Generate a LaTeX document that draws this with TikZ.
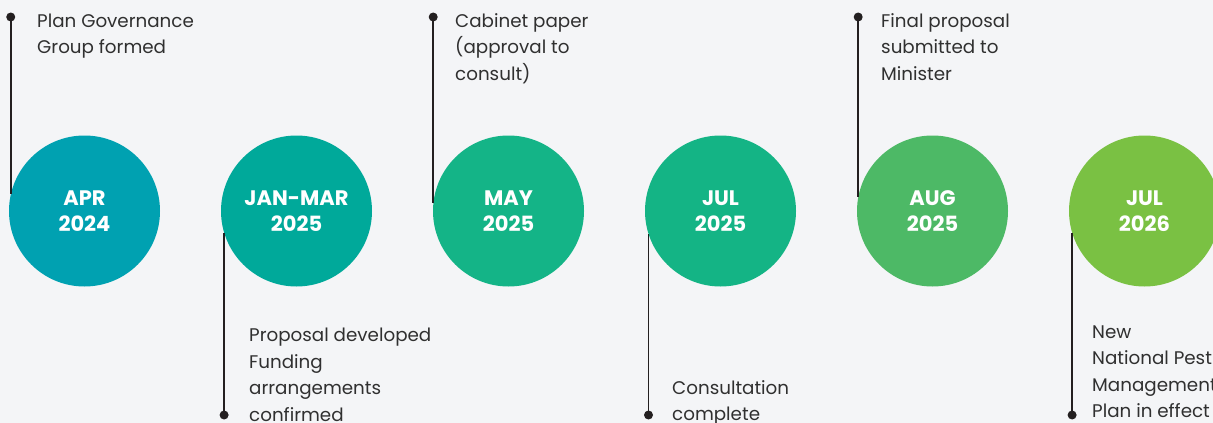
\documentclass[tikz,border=0pt]{standalone}
\usepackage{fontspec}
\setmainfont{Poppins}
\begin{document}
\begin{tikzpicture}[x=1pt,y=-1pt,
  milestone/.style={circle,minimum size=151pt,inner sep=0pt,text=white,
    font=\fontsize{21}{26}\selectfont\bfseries,align=center},
  pin/.style={circle,fill=inkdark,minimum size=9pt,inner sep=0pt},
  stem/.style={draw=inkdark,line width=1.6pt},
  note/.style={font=\fontsize{18.3}{26.5}\selectfont,text=textgray,align=left,
    inner sep=0pt,anchor=base west}]
\definecolor{bgpaper}{HTML}{F4F5F7}
\definecolor{inkdark}{HTML}{231F20}
\definecolor{textgray}{HTML}{303030}
\definecolor{cA}{HTML}{00A1B1}
\definecolor{cB}{HTML}{00A99A}
\definecolor{cC}{HTML}{14B487}
\definecolor{cD}{HTML}{14B485}
\definecolor{cE}{HTML}{4DB966}
\definecolor{cF}{HTML}{7AC143}

\fill[bgpaper] (0,0) rectangle (1213,423);
\useasboundingbox (0,0) rectangle (1213,423);

% milestone circles
\node[milestone,fill=cA] (c1) at (84.5,211) {APR\\2024};
\node[milestone,fill=cB] (c2) at (296.5,211) {JAN-MAR\\2025};
\node[milestone,fill=cC] (c3) at (508.5,211) {MAY\\2025};
\node[milestone,fill=cD] (c4) at (720.5,211) {JUL\\2025};
\node[milestone,fill=cE] (c5) at (932.5,211) {AUG\\2025};
\node[milestone,fill=cF] (c6) at (1144.5,211) {JUL\\2026};

% pin heads above and below
\node[pin] (d1) at (c1.167 |- 0,17) {};
\node[pin] (d2) at (c2.197 |- 0,415) {};
\node[pin] (d3) at (c3.174 |- 0,17) {};
\node[pin] (d4) at (c4.198 |- 0,415) {};
\node[pin] (d5) at (c5.169 |- 0,17) {};
\node[pin] (d6) at (c6.197 |- 0,415) {};

% stems
\draw[stem] (d1.center) -- (c1.167);
\draw[stem] (d2.center) -- (c2.197);
\draw[stem] (d3.center) -- (c3.174);
\draw[stem] (d4.center) -- (c4.198);
\draw[stem] (d5.center) -- (c5.169);
\draw[stem] (d6.center) -- (c6.197);

% captions (anchored at the baseline of their last line)
\node[note] (t1) at (37,53.5) {Plan Governance\\Group formed};
\node[note] (t2) at (249,421) {Proposal developed\\Funding\\arrangements\\confirmed};
\node[note] (t3) at (455,80) {Cabinet paper\\(approval to\\consult)};
\node[note] (t4) at (672,420.5) {Consultation\\complete};
\node[note] (t5) at (881,80) {Final proposal\\submitted to\\Minister};
\node[note] (t6) at (1092,417.5) {New\\National Pest\\Management\\Plan in effect};
\end{tikzpicture}
\end{document}
